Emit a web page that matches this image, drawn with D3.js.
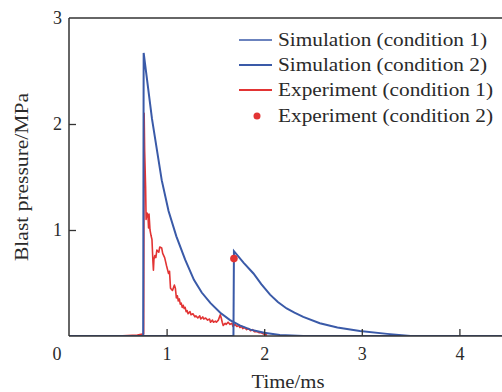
<!DOCTYPE html>
<html>
<head>
<meta charset="utf-8">
<script src="https://cdn.jsdelivr.net/npm/d3@7/dist/d3.min.js"></script>
<style>
  html, body { margin: 0; padding: 0; background: #fff; }
</style>
</head>
<body>
<svg id="chart" width="502" height="392"></svg>
<script>
// simulation, condition 1
var sim1Time = [0.0, 0.76, 0.765, 0.85, 0.95, 1.02, 1.10, 1.19, 1.28, 1.36, 1.45, 1.55, 1.65, 1.75, 1.86, 2.0, 2.16, 2.4, 4.5];
var sim1P    = [0.0, 0.0,  2.67,  2.05, 1.47, 1.18, 0.94, 0.72, 0.53, 0.41, 0.31, 0.22, 0.15, 0.10, 0.06, 0.03, 0.01, 0.0, 0.0];
// simulation, condition 2
var sim2Time = [0.0, 1.685, 1.69, 1.79, 1.89, 1.97, 2.06, 2.14, 2.23, 2.31, 2.40, 2.57, 2.75, 2.98, 3.26, 3.5, 4.5];
var sim2P    = [0.0, 0.0,   0.80, 0.69, 0.59, 0.49, 0.39, 0.32, 0.26, 0.22, 0.18, 0.12, 0.08, 0.047, 0.02, 0.0, 0.0];
// experiment, condition 1 (noisy gauge trace)
var exp1Time = [0.50, 0.60, 0.70, 0.765, 0.77, 0.775, 0.785, 0.79, 0.80, 0.81, 0.815, 0.82, 0.83, 0.84, 0.85,
                0.86, 0.865, 0.87, 0.88, 0.89, 0.90, 0.92, 0.93, 0.95, 0.96, 0.98, 1.00, 1.02, 1.03, 1.04,
                1.06, 1.08, 1.09, 1.10, 1.11, 1.12, 1.13, 1.14, 1.15, 1.16, 1.17, 1.18, 1.19, 1.20, 1.21,
                1.22, 1.24, 1.25, 1.27, 1.29, 1.30, 1.32, 1.34, 1.35, 1.37, 1.38, 1.40, 1.42, 1.44, 1.45,
                1.47, 1.48, 1.50, 1.51, 1.53, 1.55, 1.56, 1.57, 1.58, 1.60, 1.61, 1.63, 1.65, 1.67, 1.68,
                1.70, 1.72, 1.74, 1.75, 1.77, 1.78, 1.80, 1.82, 1.84, 1.86, 1.88, 1.90, 1.93, 1.95, 1.97,
                2.00, 2.03];
var exp1P    = [0.0, 0.005, 0.01, 0.02, 2.10, 1.75, 1.40, 1.10, 1.16, 1.12, 1.02, 1.15, 1.00, 0.95, 0.91,
                0.70, 0.62, 0.72, 0.76, 0.74, 0.81, 0.79, 0.84, 0.83, 0.78, 0.74, 0.66, 0.59, 0.61, 0.45,
                0.43, 0.48, 0.45, 0.36, 0.38, 0.33, 0.35, 0.30, 0.31, 0.27, 0.29, 0.26, 0.27, 0.23, 0.24,
                0.21, 0.23, 0.20, 0.21, 0.18, 0.19, 0.17, 0.19, 0.16, 0.18, 0.16, 0.17, 0.15, 0.16, 0.13,
                0.15, 0.13, 0.14, 0.13, 0.15, 0.20, 0.17, 0.13, 0.10, 0.12, 0.11, 0.13, 0.11, 0.12, 0.09,
                0.11, 0.09, 0.10, 0.08, 0.09, 0.07, 0.08, 0.06, 0.07, 0.05, 0.06, 0.04, 0.04, 0.03, 0.03,
                0.015, 0.01];
// experiment, condition 2 (single peak reading)
var exp2Time = [1.69];
var exp2P    = [0.73];

var xTicks = [1, 2, 3, 4];
var yTicks = [1, 2, 3];

var legendLabels = ["Simulation (condition 1)", "Simulation (condition 2)",
                    "Experiment (condition 1)", "Experiment (condition 2)"];
var legendWidths = [209, 209, 215, 215];

var blue = "#3a5aa8", red = "#e23434", axisCol = "#333", textCol = "#2a2a2a";
var serif = "'Liberation Serif', 'Times New Roman', 'DejaVu Serif', serif";

var svg = d3.select("#chart");
var margin = {left: 69, top: 18, bottom: 336};

var x = d3.scaleLinear().domain([0, 4.5]).range([margin.left, margin.left + 4.5 * 97.6]);
var y = d3.scaleLinear().domain([0, 3]).range([margin.bottom, margin.top]);

svg.append("clipPath").attr("id", "plotClip")
  .append("rect").attr("x", margin.left).attr("y", margin.top - 2)
  .attr("width", 502 - margin.left).attr("height", margin.bottom - margin.top + 2);

function zip(ts, ps) {
  return ts.map(function (t, i) { return [t, ps[i]]; });
}

var line = d3.line().x(function (d) { return x(d[0]); }).y(function (d) { return y(d[1]); });

var plot = svg.append("g").attr("clip-path", "url(#plotClip)");

plot.append("path").datum(zip(exp1Time, exp1P))
  .attr("d", line).attr("fill", "none").attr("stroke", red)
  .attr("stroke-width", 1.6).attr("stroke-linejoin", "round");

plot.append("path").datum(zip(sim1Time, sim1P))
  .attr("d", line).attr("fill", "none").attr("stroke", blue).attr("stroke-width", 2);

plot.append("path").datum(zip(sim2Time, sim2P))
  .attr("d", line).attr("fill", "none").attr("stroke", blue).attr("stroke-width", 2);

plot.selectAll("circle.exp2").data(zip(exp2Time, exp2P)).enter()
  .append("circle").attr("class", "exp2")
  .attr("cx", function (d) { return x(d[0]); })
  .attr("cy", function (d) { return y(d[1]); })
  .attr("r", 3.8).attr("fill", red);

// axes / frame
var frame = svg.append("g").attr("stroke", axisCol).attr("stroke-width", 1.5);
frame.append("line").attr("x1", margin.left).attr("x2", margin.left).attr("y1", margin.top).attr("y2", margin.bottom);
frame.append("line").attr("x1", margin.left).attr("x2", 502).attr("y1", margin.bottom).attr("y2", margin.bottom);
frame.append("line").attr("x1", margin.left).attr("x2", 502).attr("y1", margin.top).attr("y2", margin.top);

var xAxis = svg.append("g").attr("transform", "translate(0," + margin.bottom + ")")
  .call(d3.axisBottom(x).tickValues(xTicks).tickSizeInner(-7).tickSizeOuter(0).tickPadding(11).tickFormat(d3.format("d")));
xAxis.select(".domain").remove();

var yAxis = svg.append("g").attr("transform", "translate(" + margin.left + ",0)")
  .call(d3.axisLeft(y).tickValues(yTicks).tickSizeInner(-7).tickSizeOuter(0).tickPadding(7).tickFormat(d3.format("d")));
yAxis.select(".domain").remove();
yAxis.selectAll(".tick").filter(function (d) { return d === 3; }).select("line").remove();

svg.selectAll(".tick line").attr("stroke", axisCol).attr("stroke-width", 1.3);
xAxis.attr("font-family", serif).attr("font-size", 18);
yAxis.attr("font-family", serif).attr("font-size", 18);
svg.selectAll(".tick text").attr("fill", textCol);

function label(xp, yp, txt, size) {
  return svg.append("text").attr("x", xp).attr("y", yp).attr("text-anchor", "middle")
    .attr("font-family", serif).attr("font-size", size).attr("fill", textCol).text(txt);
}

label(57, 360, "0", 18);
label(288, 388, "Time/ms", 18).attr("textLength", 73).attr("lengthAdjust", "spacingAndGlyphs");
label(0, 0, "Blast pressure/MPa", 18).attr("transform", "translate(28,177) rotate(-90)")
  .attr("textLength", 168).attr("lengthAdjust", "spacingAndGlyphs");

// legend
var legend = svg.append("g");
var rowY = [40, 65, 90, 116];
legendLabels.forEach(function (lab, i) {
  var g = legend.append("g").attr("transform", "translate(0," + rowY[i] + ")");
  if (i < 3) {
    g.append("line").attr("x1", 239).attr("x2", 272).attr("y1", 0).attr("y2", 0)
      .attr("stroke", i === 2 ? red : blue).attr("stroke-width", i === 0 ? 1.6 : 2);
  } else {
    g.append("circle").attr("cx", 257).attr("cy", 0).attr("r", 3.5).attr("fill", red);
  }
  g.append("text").attr("x", 278).attr("y", 6)
    .attr("font-family", serif).attr("font-size", 19).attr("fill", textCol)
    .attr("textLength", legendWidths[i]).attr("lengthAdjust", "spacingAndGlyphs").text(lab);
});
</script>
</body>
</html>
